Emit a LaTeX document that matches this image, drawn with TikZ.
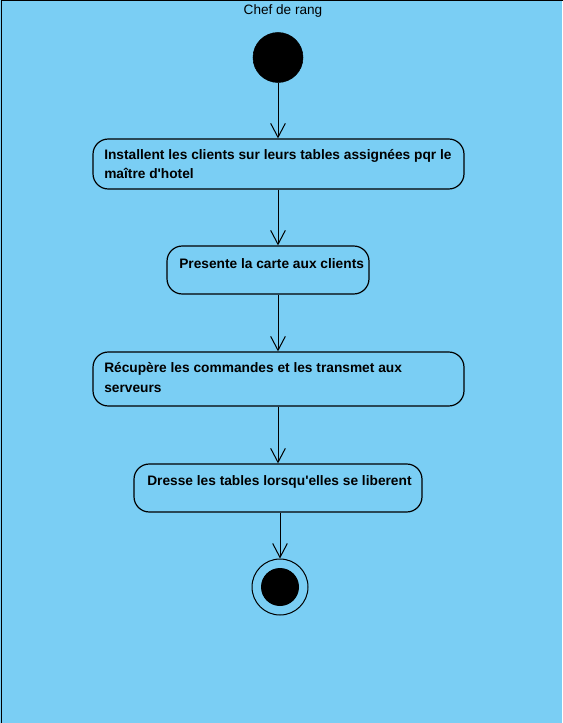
\documentclass[tikz,border=0pt]{standalone}
\usepackage{fontspec}
\setmainfont{Liberation Sans}
\usetikzlibrary{arrows.meta}
\definecolor{lane}{RGB}{122,206,244}
\begin{document}
\begin{tikzpicture}[x=0.75pt,y=-0.75pt,
  act/.style={draw=black, line width=0.9pt, fill=lane, rounded corners=11.5pt, inner sep=0pt},
  lbl/.style={anchor=base west, inner sep=0pt, align=left, font=\fontsize{10.3}{14.6}\selectfont\bfseries},
  flow/.style={line width=0.75pt, -{Straight Barb[length=10.5pt,width=11pt,line width=0.75pt]}},
  startnode/.style={circle, fill=black, draw=black, minimum size=37.5pt, inner sep=0pt},
]
\useasboundingbox (0,0) rectangle (562,723);
\fill[lane] (0,0) rectangle (562,723);
\draw[line width=1.2pt] (1.5,760) -- (1.5,0.5) -- (600,0.5);
\node[font=\fontsize{10.2}{12}\selectfont, inner sep=0pt] (title) at (283,11) {Chef de rang};

\node[startnode] (start) at (278,57.5) {};

\node[act, minimum width=278.25pt, minimum height=37.5pt] (b1) at (278.5,164) {};
\node[lbl] (t1) at (104,179) {Installent les clients sur leurs tables assignées pqr le\\ma\^{\i}tre d\textquotesingle hotel};

\node[act, minimum width=151.5pt, minimum height=36pt] (b2) at (268,270) {};
\node[lbl] (t2) at (179,268) {Presente la carte aux clients};

\node[act, minimum width=278.25pt, minimum height=40.5pt] (b3) at (278.5,379) {};
\node[lbl] (t3) at (104,392) {Récupère les commandes et les transmet aux\\serveurs};

\node[act, minimum width=216pt, minimum height=36pt] (b4) at (278,488) {};
\node[lbl] (t4) at (147,485) {Dresse les tables lorsqu\textquotesingle elles se liberent};

\node[circle, draw=black, line width=0.75pt, fill=lane, minimum size=42pt, inner sep=0pt] (endo) at (280,587) {};
\node[circle, fill=black, minimum size=28.5pt, inner sep=0pt] (endi) at (280,587) {};

\draw[flow] (start.south) -- (start.south |- b1.north);
\draw[flow] (b1.south -| 278,0) -- (b2.north -| 278,0);
\draw[flow] (b2.south -| 278,0) -- (b3.north -| 278,0);
\draw[flow] (b3.south -| 278,0) -- (b4.north -| 278,0);
\draw[flow] (b4.south -| endo.north) -- (endo.north);
\end{tikzpicture}
\end{document}
